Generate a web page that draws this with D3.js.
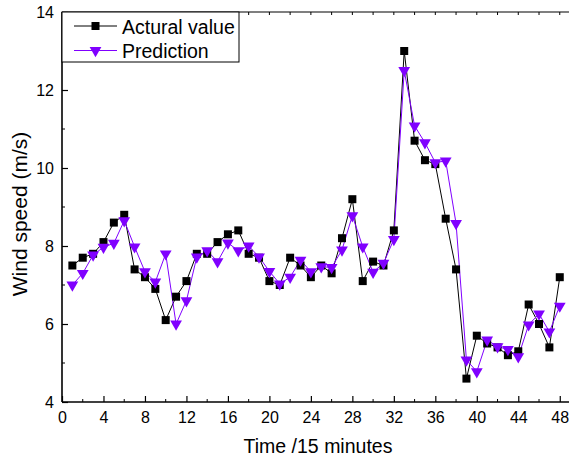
<!DOCTYPE html>
<html>
<head>
<meta charset="utf-8">
<script src="https://cdn.jsdelivr.net/npm/d3@7"></script>
<style>
  html, body { margin: 0; padding: 0; background: #fff; }
  svg { display: block; font-family: "Liberation Sans", Arial, sans-serif; }
</style>
</head>
<body>
<svg id="chart" width="569" height="459"></svg>
<script>
// Wind speed per 15-minute step: measured vs. predicted
const timeSteps = d3.range(1, 49);
const actualValues = [7.5, 7.7, 7.8, 8.1, 8.6, 8.8, 7.4, 7.2, 6.9, 6.1, 6.7, 7.1,
  7.8, 7.8, 8.1, 8.3, 8.4, 7.8, 7.7, 7.1, 7.0, 7.7, 7.5, 7.2,
  7.5, 7.3, 8.2, 9.2, 7.1, 7.6, 7.5, 8.4, 13.0, 10.7, 10.2, 10.1,
  8.7, 7.4, 4.6, 5.7, 5.5, 5.4, 5.2, 5.3, 6.5, 6.0, 5.4, 7.2];
const predictedValues = [7.0, 7.3, 7.77, 7.97, 8.07, 8.65, 7.98, 7.34, 7.08, 7.8, 6.0, 6.6,
  7.72, 7.88, 7.6, 8.08, 7.88, 8.0, 7.72, 7.35, 7.03, 7.2, 7.64, 7.34,
  7.47, 7.45, 7.9, 8.78, 7.98, 7.33, 7.56, 8.17, 12.5, 11.08, 10.65, 10.14,
  10.18, 8.58, 5.08, 4.78, 5.59, 5.42, 5.35, 5.16, 5.98, 6.26, 5.8, 6.46];
const xTicks = [0, 4, 8, 12, 16, 20, 24, 28, 32, 36, 40, 44, 48];
const yTicks = [4, 6, 8, 10, 12, 14];
const seriesNames = ["Actural value", "Prediction"];

const svg = d3.select("#chart");
const plotLeft = 62, plotTop = 12, plotBottom = 402;
const x = d3.scaleLinear().domain([0, 49]).range([plotLeft, plotLeft + 49 * 10.37]);
const y = d3.scaleLinear().domain([4, 14]).range([plotBottom, plotTop]);
const plotRight = x(49);
const purple = "#8000ff";

// Top frame line
svg.append("line").attr("x1", plotLeft).attr("x2", plotRight).attr("y1", plotTop).attr("y2", plotTop)
  .attr("stroke", "#000").attr("stroke-width", 1.2);

// Bottom axis (ticks pointing inward)
const xAxis = svg.append("g").attr("transform", `translate(0,${plotBottom})`)
  .call(d3.axisBottom(x).tickValues(xTicks).tickSize(-6).tickPadding(10).tickFormat(d3.format("d")));
xAxis.append("g").selectAll("line").data(d3.range(2, 49, 4)).join("line")
  .attr("x1", d => x(d)).attr("x2", d => x(d)).attr("y1", 0).attr("y2", -3).attr("stroke", "#000");

// Top axis minor ticks
svg.append("g").selectAll("line").data(d3.range(2, 49, 2)).join("line")
  .attr("x1", d => x(d)).attr("x2", d => x(d)).attr("y1", plotTop).attr("y2", plotTop + 3).attr("stroke", "#000");

// Left axis
const yAxis = svg.append("g").attr("transform", `translate(${plotLeft},0)`)
  .call(d3.axisLeft(y).tickValues(yTicks).tickSize(-6).tickPadding(8).tickFormat(d3.format("d")));
yAxis.append("g").selectAll("line").data(d3.range(5, 14, 2)).join("line")
  .attr("x1", 0).attr("x2", 3).attr("y1", d => y(d)).attr("y2", d => y(d)).attr("stroke", "#000");

[xAxis, yAxis].forEach(a => {
  a.select(".domain").attr("stroke-width", 1.6);
  a.selectAll(".tick line").attr("stroke-width", 1.2);
  a.selectAll(".tick text").attr("font-size", 16).attr("fill", "#000")
    .attr("font-family", "Liberation Sans, Arial, sans-serif");
});
xAxis.select(".domain").attr("d", `M${plotLeft},0H${plotRight}`);
yAxis.select(".domain").attr("d", `M0,${plotBottom}V${plotTop}`);

// Axis titles
svg.append("text").attr("x", 318).attr("y", 453).attr("text-anchor", "middle")
  .attr("font-size", 19.5).text("Time /15 minutes");
svg.append("text").attr("transform", `translate(27,214) rotate(-90)`)
  .attr("text-anchor", "middle").attr("font-size", 21).text("Wind speed (m/s)");

// Series
const line = d3.line().x((d, i) => x(timeSteps[i])).y(d => y(d));
svg.append("path").datum(actualValues).attr("d", line)
  .attr("fill", "none").attr("stroke", "#000").attr("stroke-width", 1);
svg.append("path").datum(predictedValues).attr("d", line)
  .attr("fill", "none").attr("stroke", purple).attr("stroke-width", 1);

const tri = d3.symbol().type(d3.symbolTriangle).size(60);
svg.append("g").selectAll("rect").data(actualValues).join("rect")
  .attr("x", (d, i) => x(timeSteps[i]) - 4).attr("y", d => y(d) - 4)
  .attr("width", 8).attr("height", 8).attr("fill", "#000");
svg.append("g").selectAll("path").data(predictedValues).join("path")
  .attr("d", tri)
  .attr("transform", (d, i) => `translate(${x(timeSteps[i])},${y(d)}) rotate(180)`)
  .attr("fill", purple);

// Legend
const legend = svg.append("g");
legend.append("rect").attr("x", plotLeft).attr("y", plotTop).attr("width", 177).attr("height", 50)
  .attr("fill", "#fff").attr("stroke", "#000").attr("stroke-width", 1);
const entries = [
  { name: seriesNames[0], color: "#000", marker: "square", yy: 26, base: 34 },
  { name: seriesNames[1], color: purple, marker: "tri", yy: 50.5, base: 58 }
];
entries.forEach(e => {
  legend.append("line").attr("x1", 74).attr("x2", 117).attr("y1", e.yy).attr("y2", e.yy)
    .attr("stroke", e.color).attr("stroke-width", 1);
  if (e.marker === "square") {
    legend.append("rect").attr("x", 91.5).attr("y", e.yy - 4).attr("width", 8).attr("height", 8).attr("fill", e.color);
  } else {
    legend.append("path").attr("d", tri).attr("transform", `translate(95.5,${e.yy}) rotate(180)`).attr("fill", e.color);
  }
  legend.append("text").attr("x", 122).attr("y", e.base).attr("font-size", 19.5).attr("fill", "#000").text(e.name);
});
</script>
</body>
</html>
